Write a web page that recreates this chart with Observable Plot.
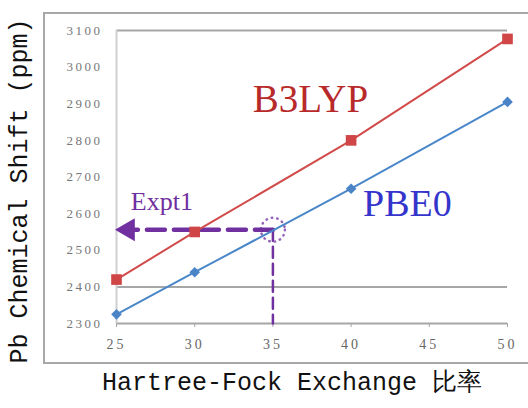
<!DOCTYPE html>
<html>
<head>
<meta charset="utf-8">
<script src="https://cdn.jsdelivr.net/npm/d3@7"></script>
<script src="https://cdn.jsdelivr.net/npm/@observablehq/plot@0.6"></script>
<style>
  html, body { margin: 0; padding: 0; background: #fff; }
  #wrap { position: relative; width: 528px; height: 408px; overflow: hidden; }
  #frame { position: absolute; left: 43px; top: 12px; width: 520px; height: 352px; border: 2px solid #a8a8a8; box-sizing: border-box; }
  #chart { position: absolute; left: 0; top: 0; }
  #chart g[aria-label="y-axis tick label"] text { letter-spacing: 2.5px; }
  #chart g[aria-label="x-axis tick label"] text { letter-spacing: 3px; }
</style>
</head>
<body>
<div id="wrap"><div id="frame"></div><div id="chart"></div></div>
<script>
const hfExchange = [25, 30, 40, 50];
const b3lyp = [2420, 2550, 2800, 3077];
const pbe0 = [2325, 2440, 2668, 2905];
const exptX = 35;
const exptY = 2556;
const xTicks = [25, 30, 35, 40, 45, 50];
const yTicks = [2300, 2400, 2500, 2600, 2700, 2800, 2900, 3000, 3100];
const gridValues = [2300, 2400, 3100];

const b3Data = hfExchange.map((x, i) => ({x, y: b3lyp[i]}));
const pbData = hfExchange.map((x, i) => ({x, y: pbe0[i]}));

const purple = "#7030a0";
const serif = "'Liberation Serif', 'DejaVu Serif', serif";
const mono = "'Liberation Mono', 'DejaVu Sans Mono', monospace";

const chart = Plot.plot({
  width: 528,
  height: 408,
  marginLeft: 116,
  marginRight: 21,
  marginTop: 30,
  marginBottom: 85,
  style: {background: "transparent", fontFamily: serif},
  x: {domain: [25, 50]},
  y: {domain: [2300, 3100]},
  marks: [
    Plot.ruleY(gridValues, {stroke: "#a6a6a6", strokeWidth: 2}),
    Plot.ruleX([25], {stroke: "#d0d0d0", strokeWidth: 2}),
    Plot.axisX({ticks: xTicks, tickSize: 4, tickPadding: 12, stroke: "#a6a6a6", fill: "#666", fontSize: 14, tickFormat: d => String(d), label: null}),
    Plot.axisY({ticks: yTicks, tickSize: 0, tickPadding: 14, fill: "#777", fontSize: 13, tickFormat: d => String(d), label: null}),
    // Expt1 annotation
    Plot.line([{x: exptX, y: exptY}, {x: 25.9, y: exptY}], {x: "x", y: "y", stroke: purple, strokeWidth: 4.5, strokeDasharray: "18,9"}),
    Plot.line([{x: exptX, y: exptY}, {x: exptX, y: 2300}], {x: "x", y: "y", stroke: purple, strokeWidth: 2.5, strokeDasharray: "11,6"}),
    Plot.dot([{x: 25.75, y: exptY}], {x: "x", y: "y", symbol: "triangle", rotate: -90, r: 7.5, fill: purple, stroke: purple}),
    Plot.dot([{x: exptX, y: exptY}], {x: "x", y: "y", r: 12, fill: "none", stroke: purple, strokeWidth: 2.5, strokeDasharray: "0.5,5", strokeLinecap: "round", strokeOpacity: 0.75}),
    // series
    Plot.line(b3Data, {x: "x", y: "y", stroke: "#d24b4b", strokeWidth: 2}),
    Plot.dot(b3Data, {x: "x", y: "y", symbol: "square", r: 6, fill: "#d04545"}),
    Plot.line(pbData, {x: "x", y: "y", stroke: "#4a87c9", strokeWidth: 2}),
    Plot.dot(pbData, {x: "x", y: "y", symbol: "diamond2", r: 4.8, fill: "#4a84c6"}),
    // labels
    Plot.text(["B3LYP"], {x: 37.4, y: 2912, text: d => d, fill: "#b82a2a", fontSize: 39, fontFamily: serif}),
    Plot.text(["PBE0"], {x: 43.6, y: 2628, text: d => d, fill: "#3535cc", fontSize: 38, fontFamily: serif}),
    Plot.text(["Expt1"], {x: 27.9, y: 2632, text: d => d, fill: purple, fontSize: 26, fontFamily: serif}),
    // axis titles
    Plot.text(["Pb Chemical Shift (ppm)"], {frameAnchor: "left", textAnchor: "middle", dx: -98, dy: 14, rotate: -90, text: d => d, fill: "#111", fontSize: 25, fontFamily: mono}),
    Plot.text(["Hartree-Fock Exchange 比率"], {frameAnchor: "bottom", dx: -20, dy: 66, text: d => d, fill: "#111", fontSize: 25, fontFamily: mono})
  ]
});
document.getElementById("chart").appendChild(chart);
</script>
</body>
</html>
